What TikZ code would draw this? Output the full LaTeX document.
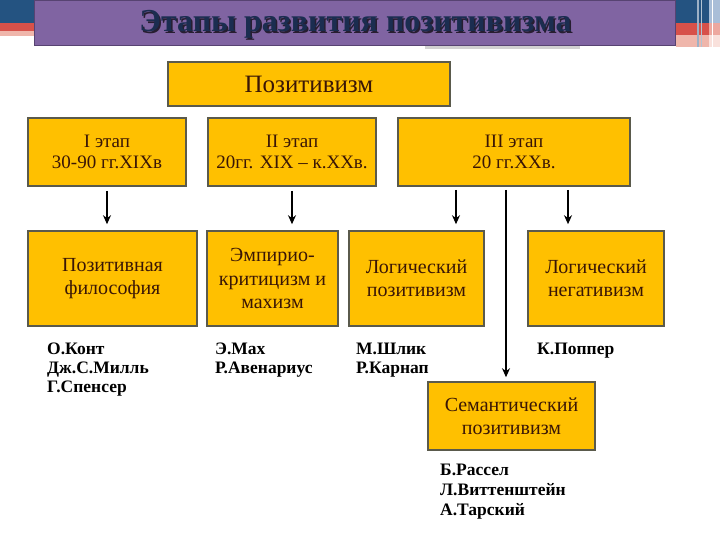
\documentclass[tikz,border=0pt]{standalone}
\usepackage{fontspec}
\setmainfont{Liberation Serif}
\usetikzlibrary{arrows.meta,calc}
\definecolor{boxfill}{HTML}{FFC000}
\definecolor{boxdraw}{HTML}{5A5A4C}
\definecolor{boxtext}{HTML}{3A1606}
\definecolor{titlefill}{HTML}{8064A2}
\definecolor{titledraw}{HTML}{574372}
\definecolor{titletext}{HTML}{1B2D50}
\definecolor{decblue}{HTML}{245381}
\definecolor{decred}{HTML}{D7514A}
\definecolor{decpink}{HTML}{EFB6AB}
\definecolor{declblue}{HTML}{A9BED8}
\definecolor{declred}{HTML}{EDA89F}
\definecolor{declpink}{HTML}{F9E1DC}
\begin{document}
\begin{tikzpicture}[x=1pt,y=-1pt,
  box/.style={draw=boxdraw,line width=1.6pt,fill=boxfill,text=boxtext,align=center,inner sep=0pt},
  stagetext/.style={font=\fontsize{19}{21}\selectfont},
  rowtext/.style={font=\fontsize{20}{23.5}\selectfont},
  names/.style={font=\fontsize{17.5}{19}\selectfont\bfseries,align=left,anchor=north west,inner sep=0pt,text=black},
  arr/.style={-{Stealth[length=9pt,width=8pt]},line width=1.6pt,black}]
\useasboundingbox (0,0) rectangle (720,540);
% decorations
\fill[decblue] (0,0) rectangle (34,23);
\fill[decred] (0,23) rectangle (34,31);
\fill[decpink] (0,31) rectangle (34,36);
\fill[decblue] (676,0) rectangle (709,23);
\fill[declblue] (709,0) rectangle (720,23);
\fill[decred] (676,23) rectangle (709,35);
\fill[declred] (709,23) rectangle (720,35);
\fill[decpink] (676,35) rectangle (709,47);
\fill[declpink] (709,35) rectangle (720,47);
\fill[white!55!decblue] (697,0) rectangle (698.5,47);
\fill[white!65!decblue] (701,0) rectangle (702,47);
\fill[white] (712,0) rectangle (713,47);
\fill[black!18!white] (425,46) rectangle (580,49);
% title
\node[draw=titledraw,line width=1.5pt,fill=titlefill,minimum width=641pt,minimum height=45pt,inner sep=0pt] (titlebar) at (355,23) {};
\node[text=black!70!titlefill,font=\fontsize{32}{36}\selectfont\bfseries] (titleshadow) at (357,26) {Этапы развития позитивизма};
\node[text=titletext,font=\fontsize{32}{36}\selectfont\bfseries] (title) at (355.5,24.5) {Этапы развития позитивизма};
% main box
\node[box,minimum width=282pt,minimum height=44pt,font=\fontsize{25}{28}\selectfont] (pos) at (309,84) {Позитивизм};
% stages
\node[box,stagetext,minimum width=158pt,minimum height=68pt] (s1) at (107,152) {I этап\\30-90 гг.XIXв};
\node[box,stagetext,minimum width=168pt,minimum height=68pt] (s2) at (292,152) {II этап\\20гг. XIX – к.XXв.};
\node[box,stagetext,minimum width=232pt,minimum height=68pt] (s3) at (514,152) {III этап\\20 гг.XXв.};
% row 2
\node[box,rowtext,minimum width=169pt,minimum height=95pt] (a) at (112.5,278.5) {Позитивная\\философия};
\node[box,rowtext,minimum width=131pt,minimum height=95pt] (b) at (272.5,278.5) {Эмпирио-\\критицизм и\\махизм};
\node[box,rowtext,minimum width=135pt,minimum height=95pt] (c) at (416.5,278.5) {Логический\\позитивизм};
\node[box,rowtext,minimum width=136pt,minimum height=95pt] (d) at (596,278.5) {Логический\\негативизм};
\node[box,rowtext,minimum width=167pt,minimum height=68pt] (e) at (511.5,416) {Семантический\\позитивизм};
% connectors
\coordinate (s3a) at (456,186);
\coordinate (s3b) at (506,186);
\coordinate (s3c) at (568,186);
\draw[arr,shorten <=4pt,shorten >=6pt] (s1.south) -- (s1.south |- a.north);
\draw[arr,shorten <=4pt,shorten >=6pt] (s2.south) -- (s2.south |- b.north);
\draw[arr,shorten <=4pt,shorten >=6pt] (s3a) -- (s3a |- c.north);
\draw[arr,shorten <=4pt,shorten >=6pt] (s3c) -- (s3c |- d.north);
\draw[arr,shorten <=4pt,shorten >=4pt] (s3b) -- (s3b |- e.north);
% names
\node[names] (n1) at (47,343) {О.Конт\\Дж.С.Милль\\Г.Спенсер};
\node[names] (n2) at (215,343) {Э.Мах\\Р.Авенариус};
\node[names] (n3) at (356,343) {М.Шлик\\Р.Карнап};
\node[names] (n4) at (537,343) {К.Поппер};
\node[names,font=\fontsize{17.5}{20}\selectfont\bfseries] (n5) at (440,464) {Б.Рассел\\Л.Виттенштейн\\А.Тарский};
\end{tikzpicture}
\end{document}
